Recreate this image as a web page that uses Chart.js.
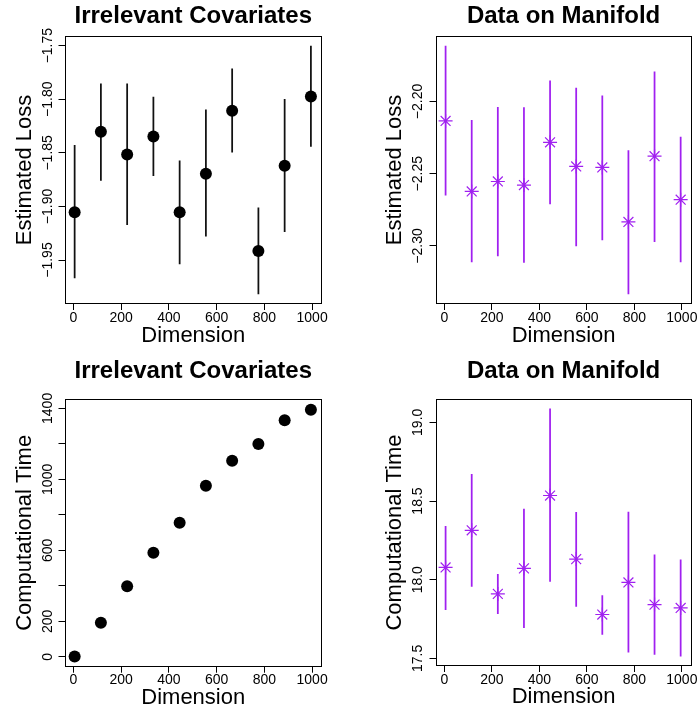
<!DOCTYPE html>
<html><head><meta charset="utf-8">
<script src="https://cdn.jsdelivr.net/npm/chart.js@4.4.1/dist/chart.umd.min.js"></script>
<style>
html,body{margin:0;padding:0;background:#fff;}
#wrap{position:relative;width:700px;height:713px;overflow:hidden;background:#fff;}
canvas{position:absolute;}
</style></head><body>
<div id="wrap">
<canvas id="c1" width="350" height="356" style="left:0;top:0"></canvas>
<canvas id="c2" width="350" height="356" style="left:350px;top:0"></canvas>
<canvas id="c3" width="350" height="357" style="left:0;top:356px"></canvas>
<canvas id="c4" width="350" height="357" style="left:350px;top:356px"></canvas>
</div>
<script>
// ---- data ----
const dimensions = [5, 115, 225, 335, 445, 555, 665, 775, 885, 995];
const xTicks = [0, 200, 400, 600, 800, 1000];

const lossIrrelevant   = [-1.9055, -1.8304, -1.8515, -1.8347, -1.9055, -1.8695, -1.8108, -1.9415, -1.8620, -1.7975];
const lossIrrelevantLo = [-1.9666, -1.8757, -1.9170, -1.8713, -1.9535, -1.9278, -1.8493, -1.9815, -1.9235, -1.8440];
const lossIrrelevantHi = [-1.8430, -1.7857, -1.7857, -1.7980, -1.8574, -1.8099, -1.7717, -1.9014, -1.8000, -1.7503];

const lossManifold   = [-2.2135, -2.2623, -2.2554, -2.2579, -2.2283, -2.2450, -2.2457, -2.2834, -2.2379, -2.2680];
const lossManifoldLo = [-2.2648, -2.3110, -2.3070, -2.3115, -2.2710, -2.3000, -2.2959, -2.3333, -2.2970, -2.3110];
const lossManifoldHi = [-2.1616, -2.2131, -2.2041, -2.2043, -2.1857, -2.1908, -2.1961, -2.2340, -2.1795, -2.2246];

const timeIrrelevant = [2, 192, 397, 586, 755, 964, 1105, 1199, 1333, 1392];

const timeManifold   = [18.078, 18.314, 17.910, 18.072, 18.535, 18.131, 17.779, 17.983, 17.842, 17.821];
const timeManifoldLo = [17.810, 17.958, 17.785, 17.695, 17.990, 17.830, 17.652, 17.540, 17.526, 17.515];
const timeManifoldHi = [18.339, 18.670, 18.034, 18.449, 19.085, 18.428, 17.900, 18.430, 18.158, 18.126];

const yTicksLossIrr = [-1.95, -1.90, -1.85, -1.80, -1.75];
const yTicksLossMan = [-2.30, -2.25, -2.20];
const yTicksTimeIrr = [0, 200, 400, 600, 800, 1000, 1200, 1400];
const yLabelsTimeIrr = [0, 200, 600, 1000, 1400];
const yTicksTimeMan = [17.5, 18.0, 18.5, 19.0];

// ---- rendering ----
const FONT = 'Liberation Sans';
Chart.defaults.font.family = FONT;
const PURPLE = '#A020F0';
const TL = 6;

const boxPlugin = {
  id: 'box',
  afterDraw(chart) {
    const {ctx, chartArea: a} = chart;
    ctx.save();
    ctx.strokeStyle = '#000';
    ctx.lineWidth = 1;
    const l = Math.round(a.left) + 0.5, t = Math.round(a.top) + 0.5;
    const r = Math.round(a.right) - 0.5, b = Math.round(a.bottom) - 0.5;
    ctx.strokeRect(l, t, r - l, b - t);
    ctx.restore();
  }
};

function fmt(v, dec) { return v.toFixed(dec).replace('-', '\u2212'); }

function buildPanel(p) {
  const W = 350, H = p.h;
  const titleLH = 24 * 1.2, axisLH = 22 * 1.2, tickLH = 14 * 1.2;
  const shown = p.yShown || p.yTicks;
  const meas = document.createElement('canvas').getContext('2d');
  meas.font = '14px "' + FONT + '"';
  const labels = p.yTicks.map(v => shown.includes(v) ? fmt(v, p.dec) : '');
  const widest = Math.max(...labels.map(l => meas.measureText(l).width));
  const yPad = (p.area.left - TL - p.yLabelX) - widest / 2;

  const datasets = [];
  const pts = dimensions.map((x, i) => ({x: x, y: p.values[i]}));
  if (p.star) {
    datasets.push({type: 'scatter', data: pts, pointStyle: 'star', pointRadius: 7,
      borderColor: PURPLE, backgroundColor: PURPLE, pointBorderWidth: 1.2, order: 0});
  } else {
    datasets.push({type: 'scatter', data: pts, pointStyle: 'circle', pointRadius: 6,
      borderColor: '#000', backgroundColor: '#000', pointBorderWidth: 0, order: 0});
  }
  if (p.lo) {
    datasets.push({type: 'bar', data: dimensions.map((x, i) => ({x: x, y: [p.lo[i], p.hi[i]]})),
      backgroundColor: p.star ? PURPLE : '#111', borderWidth: 0, barThickness: 1.1, order: 1});
  }
  const titleTop = p.titleY - titleLH / 2;
  new Chart(document.getElementById(p.id), {
    type: 'scatter',
    data: {datasets},
    options: {
      responsive: false, animation: false, events: [],
      layout: {padding: {left: 0, top: 0, right: W - p.area.right, bottom: 0}},
      plugins: {
        legend: {display: false}, tooltip: {enabled: false},
        title: {display: true, text: p.title, fullSize: false, color: '#000',
          font: {family: FONT, size: 24, weight: 'bold'},
          padding: {top: titleTop, bottom: p.area.top - titleTop - titleLH}}
      },
      scales: {
        x: {
          type: 'linear', min: -37.5, max: 1041.5, offset: false,
          afterBuildTicks: s => { s.ticks = xTicks.map(v => ({value: v})); },
          afterFit: s => { s.height = H - p.area.bottom; },
          grid: {drawOnChartArea: false, drawTicks: true, tickLength: TL, color: '#000', lineWidth: 1, offset: false},
          border: {display: false},
          ticks: {autoSkip: false, maxRotation: 0, minRotation: 0, color: '#000', font: {family: FONT, size: 14},
            padding: p.xLabelY - p.area.bottom - TL - tickLH / 2, callback: v => String(v)},
          title: {display: true, text: 'Dimension', color: '#000', font: {family: FONT, size: 22},
            padding: {top: 0, bottom: H - p.xTitleY - axisLH / 2}}
        },
        y: {
          type: 'linear', min: p.yMin, max: p.yMax, beginAtZero: false,
          afterBuildTicks: s => { s.ticks = p.yTicks.map(v => ({value: v})); },
          afterFit: s => { s.width = p.area.left; },
          grid: {drawOnChartArea: false, drawTicks: true, tickLength: TL, color: '#000', lineWidth: 1},
          border: {display: false},
          ticks: {autoSkip: false, minRotation: 90, maxRotation: 90, crossAlign: 'center', padding: yPad,
            color: '#000', font: {family: FONT, size: 14},
            callback: v => shown.includes(v) ? fmt(v, p.dec) : ''},
          title: {display: true, text: p.yTitle, color: '#000', font: {family: FONT, size: 22},
            padding: {top: p.yTitleX - axisLH / 2, bottom: 0}}
        }
      }
    },
    plugins: [boxPlugin]
  });
}

buildPanel({id: 'c1', h: 356, title: 'Irrelevant Covariates', yTitle: 'Estimated Loss',
  values: lossIrrelevant, lo: lossIrrelevantLo, hi: lossIrrelevantHi, star: false,
  yMin: -1.991, yMax: -1.741, yTicks: yTicksLossIrr, dec: 2,
  area: {left: 64.5, right: 322, top: 36, bottom: 304},
  titleY: 16.7, yTitleX: 25, yLabelX: 48.3, xLabelY: 318.3, xTitleY: 335.7});

buildPanel({id: 'c2', h: 356, title: 'Data on Manifold', yTitle: 'Estimated Loss',
  values: lossManifold, lo: lossManifoldLo, hi: lossManifoldHi, star: true,
  yMin: -2.3402, yMax: -2.1547, yTicks: yTicksLossMan, dec: 2,
  area: {left: 85.5, right: 341.7, top: 36, bottom: 304},
  titleY: 16.7, yTitleX: 45, yLabelX: 68.3, xLabelY: 318.3, xTitleY: 335.7});

buildPanel({id: 'c3', h: 357, title: 'Irrelevant Covariates', yTitle: 'Computational Time',
  values: timeIrrelevant, lo: null, hi: null, star: false,
  yMin: -56, yMax: 1453, yTicks: yTicksTimeIrr, yShown: yLabelsTimeIrr, dec: 0,
  area: {left: 64.5, right: 322, top: 43, bottom: 310.7},
  titleY: 15.7, yTitleX: 25, yLabelX: 48.3, xLabelY: 324, xTitleY: 342});

buildPanel({id: 'c4', h: 357, title: 'Data on Manifold', yTitle: 'Computational Time',
  values: timeManifold, lo: timeManifoldLo, hi: timeManifoldHi, star: true,
  yMin: 17.452, yMax: 19.148, yTicks: yTicksTimeMan, dec: 1,
  area: {left: 85.5, right: 341.7, top: 43, bottom: 310},
  titleY: 15.7, yTitleX: 45, yLabelX: 68.3, xLabelY: 323.7, xTitleY: 341.4});
</script>
</body></html>
